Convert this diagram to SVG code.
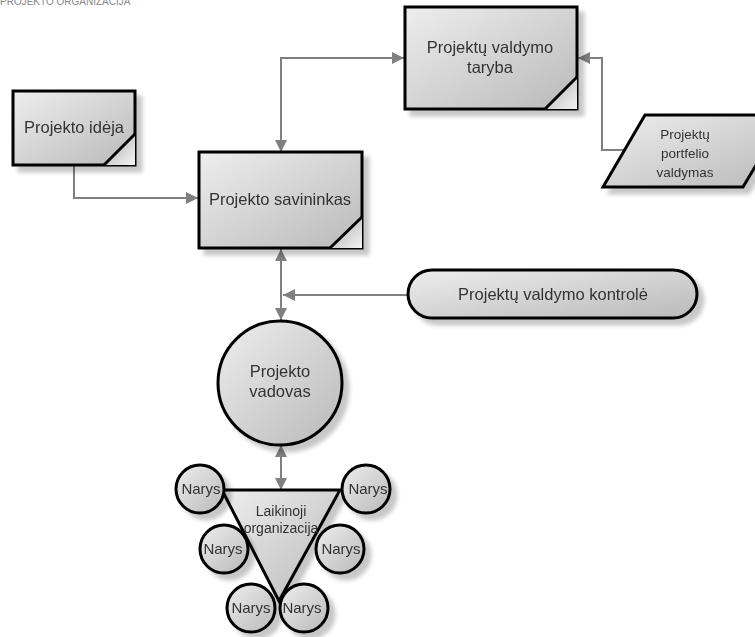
<svg xmlns="http://www.w3.org/2000/svg" width="755" height="637" viewBox="0 0 755 637">
<defs>
  <linearGradient id="g" x1="0" y1="0" x2="1" y2="1">
    <stop offset="0" stop-color="#eeeeee"/>
    <stop offset="1" stop-color="#b9b9b9"/>
  </linearGradient>
  <linearGradient id="fold" x1="0" y1="0" x2="1" y2="1">
    <stop offset="0" stop-color="#aaaaaa"/>
    <stop offset="1" stop-color="#f4f4f4"/>
  </linearGradient>
  <filter id="sh" x="-20%" y="-20%" width="150%" height="150%">
    <feGaussianBlur in="SourceAlpha" stdDeviation="2"/>
    <feOffset dx="6" dy="6" result="o"/>
    <feComponentTransfer><feFuncA type="linear" slope="0.22"/></feComponentTransfer>
    <feMerge><feMergeNode/><feMergeNode in="SourceGraphic"/></feMerge>
  </filter>
  <marker id="ah" viewBox="0 0 10 10" refX="10" refY="5" markerWidth="12" markerHeight="12" markerUnits="userSpaceOnUse" orient="auto-start-reverse">
    <path d="M0,0 L10,5 L0,10 z" fill="#808080"/>
  </marker>
  <style>
    .box{fill:url(#g);stroke:#000;stroke-width:3}
    .fold{fill:url(#fold);stroke:none}
    .fl{stroke:#000;stroke-width:3;fill:none}
    .t{font-family:"Liberation Sans",Arial,sans-serif;fill:#333;text-anchor:middle}
    .c{fill:none;stroke:#808080;stroke-width:2}
  </style>
</defs>
<text x="0" y="5" font-family="Liberation Sans, Arial, sans-serif" font-size="10" fill="#888">PROJEKTO ORGANIZACIJA</text>

<g id="connectors">
  <path class="c" d="M74,165 V198 H198" marker-end="url(#ah)"/>
  <path class="c" d="M281,152 V58 H404" marker-start="url(#ah)" marker-end="url(#ah)"/>
  <path class="c" d="M624,150 H602 V58 H578" marker-end="url(#ah)"/>
  <path class="c" d="M408,295 H283" marker-end="url(#ah)"/>
  <path class="c" d="M281,249 V320" marker-start="url(#ah)" marker-end="url(#ah)"/>
  <path class="c" d="M281,445 V490" marker-start="url(#ah)" marker-end="url(#ah)"/>
</g>

<g id="ideja" filter="url(#sh)">
  <rect class="box" x="13" y="91" width="122" height="74"/>
  <polygon class="fold" points="104,165 135,134 135,165"/>
  <line class="fl" x1="104" y1="165" x2="135" y2="134"/>
  <text class="t" x="74" y="133" font-size="16.5">Projekto idėja</text>
</g>

<g id="savininkas" filter="url(#sh)">
  <rect class="box" x="199" y="152" width="163" height="96"/>
  <polygon class="fold" points="330,248 362,217 362,248"/>
  <line class="fl" x1="330" y1="248" x2="362" y2="217"/>
  <text class="t" x="280" y="205" font-size="16.5">Projekto savininkas</text>
</g>

<g id="taryba" filter="url(#sh)">
  <rect class="box" x="405" y="7" width="172" height="102"/>
  <polygon class="fold" points="545,109 577,77 577,109"/>
  <line class="fl" x1="545" y1="109" x2="577" y2="77"/>
  <text class="t" x="490" y="53" font-size="16.5">Projektų valdymo</text>
  <text class="t" x="490" y="73" font-size="16.5">taryba</text>
</g>

<g id="portfelis" filter="url(#sh)">
  <polygon class="box" points="645,115 786,115 743,187 603,187"/>
  <text class="t" x="685" y="139" font-size="13.5">Projektų</text>
  <text class="t" x="685" y="158" font-size="13.5">portfelio</text>
  <text class="t" x="685" y="177" font-size="13.5">valdymas</text>
</g>

<g id="kontrole" filter="url(#sh)">
  <rect class="box" x="408" y="270" width="289" height="48" rx="24" ry="24"/>
  <text class="t" x="553" y="300" font-size="16.5">Projektų valdymo kontrolė</text>
</g>

<g id="vadovas" filter="url(#sh)">
  <circle class="box" cx="280" cy="383" r="62"/>
  <text class="t" x="280" y="377" font-size="16.5">Projekto</text>
  <text class="t" x="280" y="397" font-size="16.5">vadovas</text>
</g>

<g id="laikinoji" filter="url(#sh)">
  <polygon class="box" points="222,490 340,490 279,601"/>
  <text class="t" x="281" y="516" font-size="14">Laikinoji</text>
  <text class="t" x="281" y="533" font-size="14">organizacija</text>
</g>

<g id="narys1" filter="url(#sh)">
  <circle class="box" cx="200" cy="489" r="24"/>
  <text class="t" x="201" y="494" font-size="15">Narys</text>
</g>
<g id="narys2" filter="url(#sh)">
  <circle class="box" cx="366" cy="489" r="24"/>
  <text class="t" x="368" y="494" font-size="15">Narys</text>
</g>
<g id="narys3" filter="url(#sh)">
  <circle class="box" cx="224" cy="549" r="24"/>
  <text class="t" x="223" y="554" font-size="15">Narys</text>
</g>
<g id="narys4" filter="url(#sh)">
  <circle class="box" cx="340" cy="549" r="24"/>
  <text class="t" x="341" y="554" font-size="15">Narys</text>
</g>
<g id="narys5" filter="url(#sh)">
  <circle class="box" cx="251" cy="608" r="24"/>
  <text class="t" x="251" y="613" font-size="15">Narys</text>
</g>
<g id="narys6" filter="url(#sh)">
  <circle class="box" cx="304" cy="608" r="24"/>
  <text class="t" x="302" y="613" font-size="15">Narys</text>
</g>
</svg>
